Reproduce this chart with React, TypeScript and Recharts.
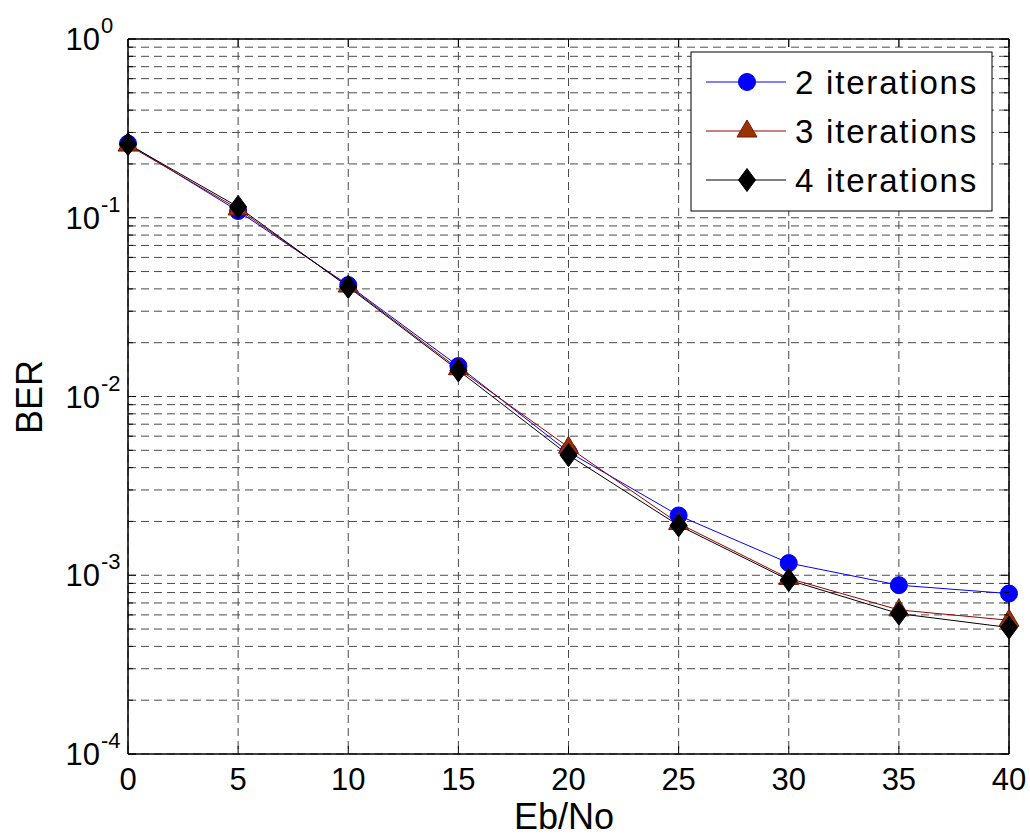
import { CartesianGrid, Line, LineChart, XAxis, YAxis } from "recharts";

const ebNo = [0, 5, 10, 15, 20, 25, 30, 35, 40];
const ber2 = [0.26, 0.109, 0.042, 0.0148, 0.0049, 0.00216, 0.00117, 0.00088, 0.00079];
const ber3 = [0.255, 0.112, 0.0415, 0.0143, 0.0052, 0.00195, 0.00096, 0.00064, 0.00056];
const ber4 = [0.258, 0.115, 0.041, 0.014, 0.0047, 0.0019, 0.00094, 0.00061, 0.00051];

const xTicks = [0, 5, 10, 15, 20, 25, 30, 35, 40];
const decades = [-4, -3, -2, -1];
const mantissas = [1, 2, 3, 4, 5, 6, 7, 8, 9];
const yTicks = [...decades.flatMap(d => mantissas.map(m => m * Math.pow(10, d))), 1];

const seriesNames = ["2 iterations", "3 iterations", "4 iterations"];

const FONT = "'Liberation Sans', Arial, sans-serif";

const data = ebNo.map((x, i) => ({ x, two: ber2[i], three: ber3[i], four: ber4[i] }));

function isMajor(v: number) {
  const e = Math.log10(v);
  return Math.abs(e - Math.round(e)) < 1e-6;
}

function circleMark(cx: number, cy: number, key?: any) {
  return <circle key={key} cx={cx} cy={cy} r={8.5} fill="#0000ff" stroke="#0000ff" />;
}
function triangleMark(cx: number, cy: number, key?: any) {
  return (
    <polygon
      key={key}
      points={`${cx},${cy - 11} ${cx - 10},${cy + 6} ${cx + 10},${cy + 6}`}
      fill="#993300"
      stroke="#7a1500"
    />
  );
}
function diamondMark(cx: number, cy: number, key?: any) {
  return (
    <polygon
      key={key}
      points={`${cx},${cy - 11.5} ${cx + 8.5},${cy} ${cx},${cy + 11.5} ${cx - 8.5},${cy}`}
      fill="#000"
      stroke="#000"
    />
  );
}

const series = [
  { key: "two", color: "#0000ff", mark: circleMark },
  { key: "three", color: "#990000", mark: triangleMark },
  { key: "four", color: "#000000", mark: diamondMark },
];

function LeftTick({ x, y, payload }: any) {
  const v = payload.value;
  const major = isMajor(v);
  return (
    <g>
      <line x1={x} x2={x + (major ? 8 : 5)} y1={y} y2={y} stroke="#000" />
      {major && (
        <>
          <text x={x - 28} y={y + 11} textAnchor="end" fontSize={31} fontFamily={FONT} fill="#000">
            10
          </text>
          <text x={x - 27} y={y - 6} textAnchor="start" fontSize={22} fontFamily={FONT} fill="#000">
            {Math.round(Math.log10(v))}
          </text>
        </>
      )}
    </g>
  );
}

function RightTick({ x, y, payload }: any) {
  const major = isMajor(payload.value);
  return <line x1={x} x2={x - (major ? 8 : 5)} y1={y} y2={y} stroke="#000" />;
}

function BottomTick({ x, y, payload }: any) {
  return (
    <g>
      <line x1={x} x2={x} y1={y} y2={y - 8} stroke="#000" />
      <text x={x} y={y + 36} textAnchor="middle" fontSize={31} fontFamily={FONT} fill="#000">
        {payload.value}
      </text>
    </g>
  );
}

function TopTick({ x, y }: any) {
  return <line x1={x} x2={x} y1={y} y2={y + 8} stroke="#000" />;
}

function LegendBox() {
  return (
    <svg
      width={303}
      height={161}
      style={{ position: "absolute", left: 690, top: 51, pointerEvents: "none" }}
    >
      <rect x={1} y={1} width={301} height={159} fill="#fff" stroke="#000" />
      {series.map((s, i) => {
        const cy = 31 + i * 49;
        return (
          <g key={s.key}>
            <line x1={16} x2={96} y1={cy} y2={cy} stroke={s.color} />
            {s.mark(57, cy)}
            <text
              x={105}
              y={cy + 12}
              fontSize={33}
              letterSpacing={1.8}
              fontFamily={FONT}
              fill="#000"
            >
              {seriesNames[i]}
            </text>
          </g>
        );
      })}
    </svg>
  );
}

export default function App() {
  return (
    <div style={{ position: "absolute", left: 0, top: 0, width: 1030, height: 839, background: "#fff" }}>
      <LineChart width={1030} height={839} data={data} margin={{ top: 38, right: 20, bottom: 0, left: 0 }}>
        <CartesianGrid stroke="#4a4a4a" strokeDasharray="8 5" />
        <XAxis
          dataKey="x"
          type="number"
          domain={[0, 40]}
          ticks={xTicks}
          height={85}
          tickSize={0}
          tickMargin={0}
          tickLine={false}
          axisLine={{ stroke: "#000", strokeWidth: 1.5 }}
          tick={<BottomTick />}
          interval={0}
          label={() => (
            <text x={564} y={829} textAnchor="middle" fontSize={36} fontFamily={FONT} fill="#000">
              Eb/No
            </text>
          )}
        />
        <XAxis
          xAxisId="top"
          orientation="top"
          dataKey="x"
          type="number"
          domain={[0, 40]}
          ticks={xTicks}
          height={1}
          tickSize={0}
          tickMargin={0}
          tickLine={false}
          axisLine={{ stroke: "#000", strokeWidth: 1.5 }}
          tick={<TopTick />}
          interval={0}
        />
        <YAxis
          scale="log"
          type="number"
          domain={[1e-4, 1]}
          ticks={yTicks}
          allowDataOverflow
          width={128}
          tickSize={0}
          tickMargin={0}
          tickLine={false}
          axisLine={{ stroke: "#000", strokeWidth: 1.5 }}
          tick={<LeftTick />}
          interval={0}
          label={() => (
            <text
              x={0}
              y={0}
              transform="translate(42,397) rotate(-90)"
              textAnchor="middle"
              fontSize={36}
              fontFamily={FONT}
              fill="#000"
            >
              BER
            </text>
          )}
        />
        <YAxis
          yAxisId="right"
          orientation="right"
          scale="log"
          type="number"
          domain={[1e-4, 1]}
          ticks={yTicks}
          allowDataOverflow
          width={1}
          tickSize={0}
          tickMargin={0}
          tickLine={false}
          axisLine={{ stroke: "#000", strokeWidth: 1.5 }}
          tick={<RightTick />}
          interval={0}
        />
        {series.map(s => (
          <Line
            key={s.key}
            type="linear"
            dataKey={s.key}
            stroke={s.color}
            strokeWidth={1}
            dot={(p: any) => s.mark(p.cx, p.cy, `${s.key}-${p.index}`)}
            activeDot={false}
            isAnimationActive={false}
          />
        ))}
      </LineChart>
      <LegendBox />
    </div>
  );
}
